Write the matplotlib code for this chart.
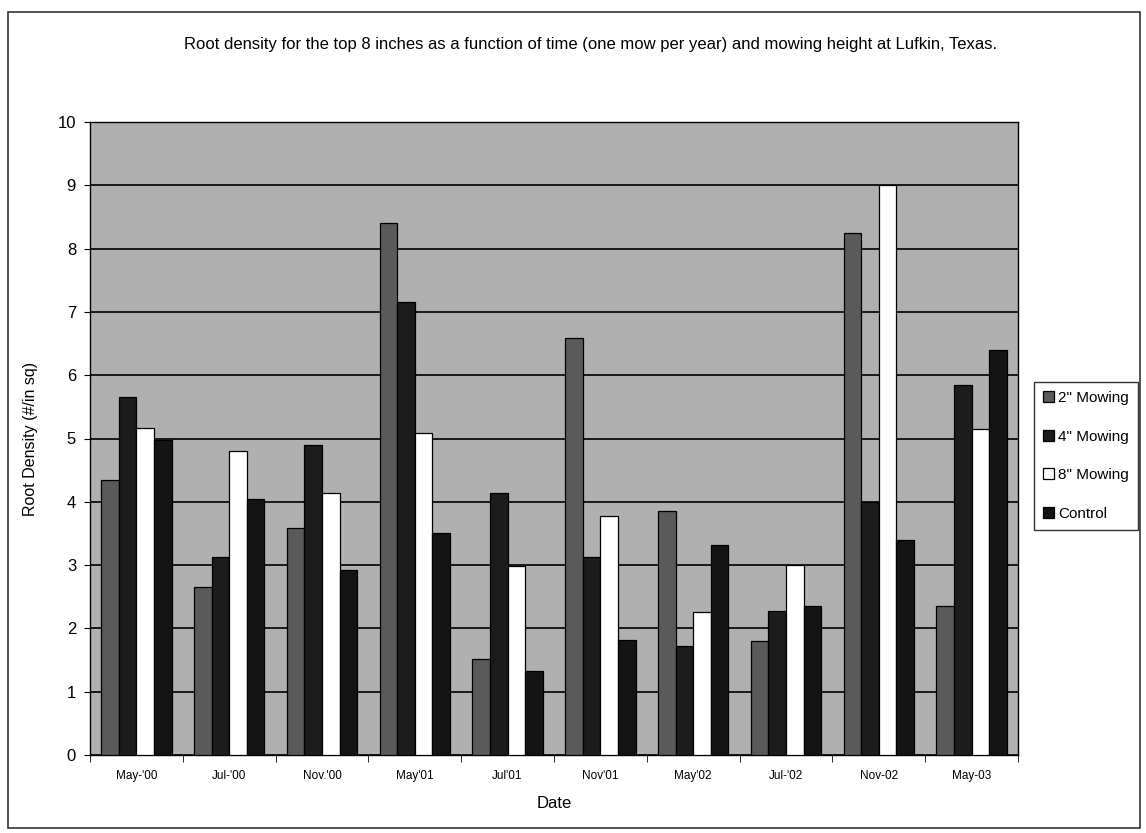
import numpy as np
import matplotlib
matplotlib.use("Agg")
import matplotlib.pyplot as plt
from matplotlib.patches import Rectangle

plt.rcParams['font.family'] = ['Liberation Sans', 'DejaVu Sans']

dates = ["May-'00", "Jul-'00", "Nov.'00", "May'01", "Jul'01",
         "Nov'01", "May'02", "Jul-'02", "Nov-02", "May-03"]
mow_2in = [4.34, 2.65, 3.58, 8.40, 1.51, 6.58, 3.86, 1.80, 8.25, 2.36]
mow_4in = [5.66, 3.13, 4.89, 7.16, 4.14, 3.13, 1.72, 2.27, 4.00, 5.84]
mow_8in = [5.17, 4.80, 4.14, 5.09, 2.98, 3.78, 2.26, 3.00, 9.00, 5.15]
control = [4.98, 4.04, 2.93, 3.50, 1.32, 1.81, 3.31, 2.36, 3.39, 6.40]

series = [("2\" Mowing", mow_2in, "#5a5a5a"),
          ("4\" Mowing", mow_4in, "#1c1c1c"),
          ("8\" Mowing", mow_8in, "#ffffff"),
          ("Control", control, "#141414")]

fig = plt.figure(figsize=(11.46, 8.33), dpi=100)
fig.patch.set_facecolor("white")

# outer frame of the chart
fig.add_artist(Rectangle((8 / 1146, 1 - 828 / 833), 1132 / 1146, 816 / 833,
                         transform=fig.transFigure, fill=False,
                         edgecolor="#333333", linewidth=1.2))

ax = fig.add_axes([90 / 1146, 1 - 755 / 833, 928 / 1146, 633 / 833])
ax.set_facecolor("#b0b0b0")

x = np.arange(len(dates))
w = 0.19
offsets = (np.arange(4) - 1.5) * w
handles = []
for (name, vals, col), off in zip(series, offsets):
    b = ax.bar(x + off, vals, width=w, color=col, edgecolor="black",
               linewidth=0.9, label=name, zorder=3)
    handles.append(b)

ax.set_xlim(-0.5, len(dates) - 0.5)
ax.set_ylim(0, 10)
ax.set_yticks(range(0, 11))
ax.tick_params(axis="y", labelsize=12, length=4, direction="out", pad=6)
ax.yaxis.grid(True, color="black", linewidth=1.2, zorder=1)
ax.set_axisbelow(True)

ax.set_xticks(x)
ax.set_xticklabels(dates, fontsize=8.5)
ax.tick_params(axis="x", length=0, pad=11)
ax.set_xticks(np.arange(-0.5, len(dates)), minor=True)
ax.tick_params(axis="x", which="minor", length=5, direction="out")

for s in ax.spines.values():
    s.set_color("black")
    s.set_linewidth(1.0)

ax.set_xlabel("Date", fontsize=12, labelpad=10)
ax.set_ylabel("Root Density (#/in sq)", fontsize=11.5, labelpad=14)

fig.text(590 / 1146, 1 - 45 / 833,
         "Root density for the top 8 inches as a function of time (one mow per year) and mowing height at Lufkin, Texas.",
         ha="center", va="center", fontsize=12)

leg = fig.legend(handles=handles, loc="upper left",
                 bbox_to_anchor=(1034 / 1146, 1 - 382 / 833),
                 fontsize=11, frameon=True, fancybox=False,
                 handlelength=0.7, handleheight=0.7, handletextpad=0.3,
                 labelspacing=1.6, borderpad=0.6, borderaxespad=0)
leg.get_frame().set_edgecolor("black")
leg.get_frame().set_linewidth(1.0)

fig.savefig("out.png", dpi=100)
